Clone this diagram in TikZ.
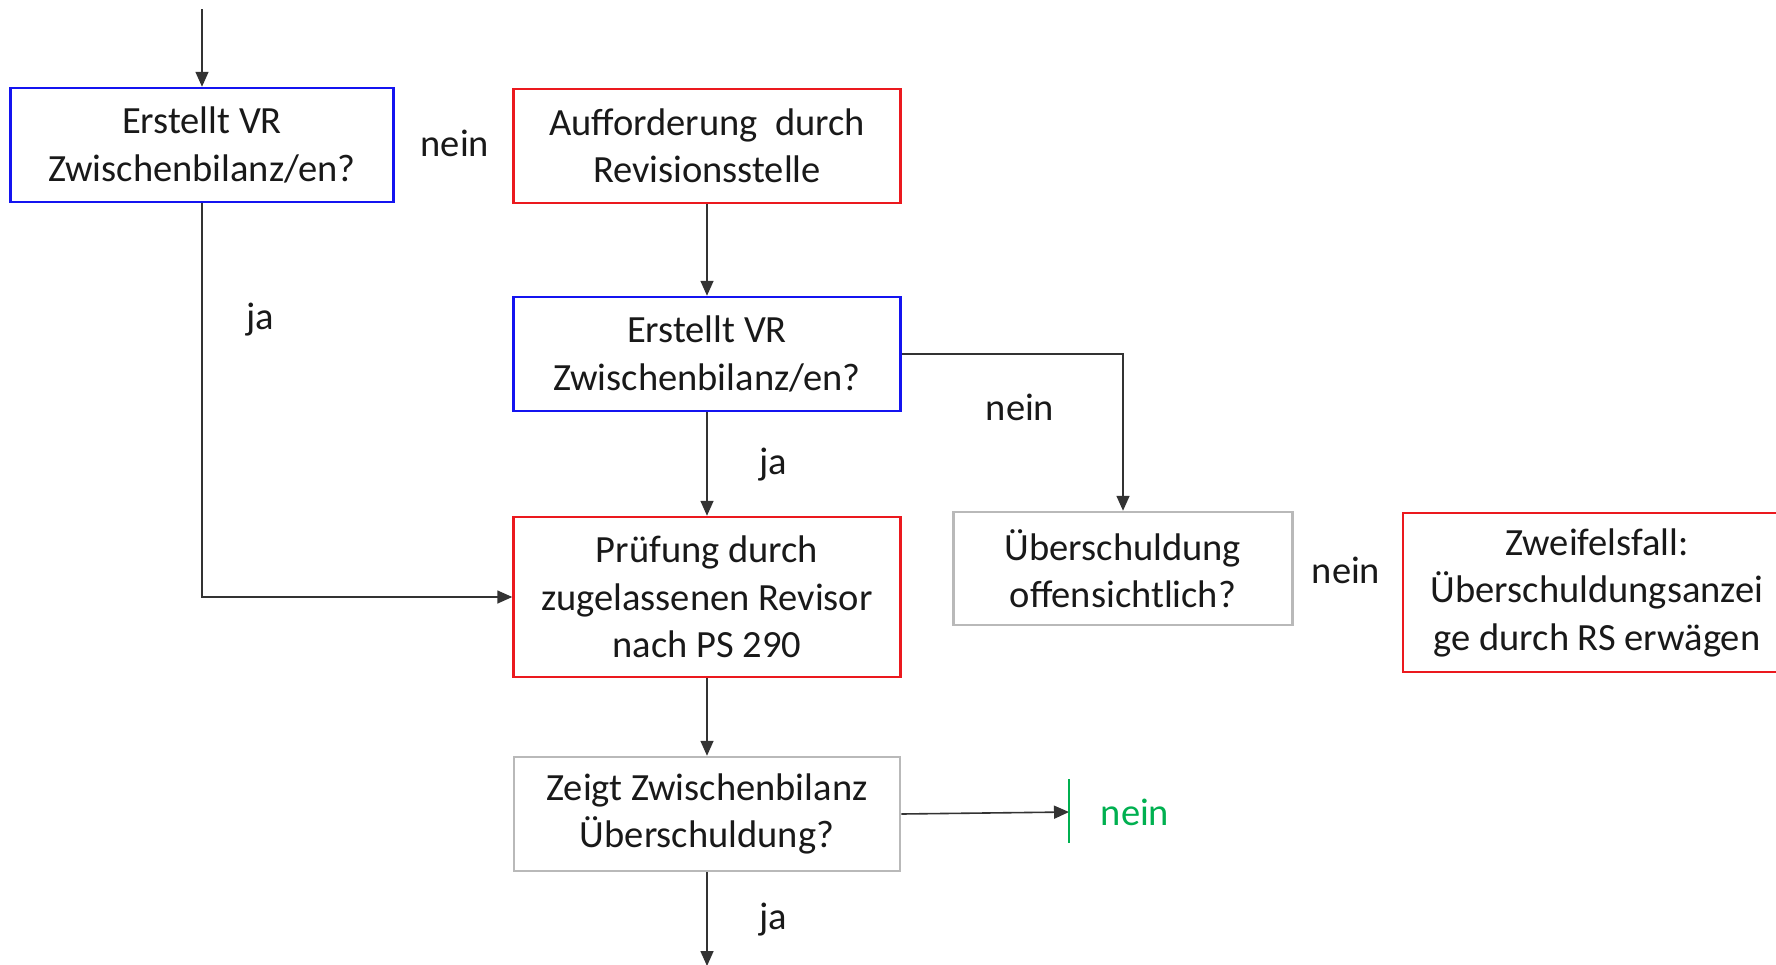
\documentclass[tikz,border=0pt]{standalone}
\usepackage{fontspec}
\setmainfont{Carlito}
\usetikzlibrary{arrows.meta}
\definecolor{bblue}{RGB}{20,20,240}
\definecolor{rred}{RGB}{235,25,30}
\definecolor{ggray}{RGB}{185,185,185}
\definecolor{ggreen}{RGB}{0,176,80}
\tikzset{
  box/.style={draw, line width=2.5pt, align=center, inner sep=0pt,
    font=\fontsize{38.5}{47.5}\selectfont, text=black!90},
  bluebox/.style={box, draw=bblue},
  redbox/.style={box, draw=rred},
  graybox/.style={box, draw=ggray},
  conn/.style={draw=black!80, line width=1.6pt, -{Triangle[length=15pt,width=13pt]}},
  lbl/.style={font=\fontsize{38.5}{47.5}\selectfont, text=black!90, inner sep=0pt}
}
\begin{document}
\begin{tikzpicture}[x=1pt,y=-1pt]
\clip (0,0) rectangle (1776,964);
\fill[white] (0,0) rectangle (1776,964);

\node[bluebox, minimum width=383pt, minimum height=114pt] (b1) at (202,145) {Erstellt VR\\Zwischenbilanz/en?};
\node[redbox, minimum width=387pt, minimum height=114pt] (b2) at (707,146) {Aufforderung\ \ durch\\Revisionsstelle};
\node[bluebox, minimum width=387pt, minimum height=114pt] (b3) at (707,354) {Erstellt VR\\Zwischenbilanz/en?};
\node[redbox, minimum width=387pt, minimum height=160pt] (b4) at (707,597) {Prüfung durch\\zugelassenen Revisor\\nach PS 290};
\node[graybox, minimum width=339pt, minimum height=113pt] (b5) at (1123,568.5) {Überschuldung\\offensichtlich?};
\node[redbox, minimum width=388pt, minimum height=159pt] (b6) at (1597,592.5) {Zweifelsfall:\\Überschuldungsanzei\\ge durch RS erwägen};
\node[graybox, minimum width=386pt, minimum height=114pt] (b7) at (707,814) {Zeigt Zwischenbilanz\\Überschuldung?};

\coordinate (top) at (202,9);
\coordinate (corner1) at (202,597);
\coordinate (corner3) at (1123,354);
\coordinate (stop) at (1069,812);
\coordinate (stopA) at (1069,779);
\coordinate (stopB) at (1069,843);
\coordinate (bottom) at (707,966);

\draw[conn] (top) -- (b1.north);
\draw[conn] (b1.south) -- (corner1) -- (b4.west);
\draw[conn] (b2.south) -- (b3.north);
\draw[conn] (b3.south) -- (b4.north);
\draw[conn] (b3.east) -- (corner3) -- (b5.north);
\draw[conn] (b4.south) -- (b7.north);
\draw[conn] (b7.east) -- (stop);
\draw[conn] (b7.south) -- (bottom);
\draw[draw=ggreen, line width=1.6pt] (stopA) -- (stopB);

\node[lbl] (n1) at (455,143) {nein};
\node[lbl] (j1) at (260,320) {ja};
\node[lbl] (j2) at (773,465) {ja};
\node[lbl] (n2) at (1020,407) {nein};
\node[lbl] (n3) at (1346,570) {nein};
\node[lbl, text=ggreen] (n4) at (1135,812) {nein};
\node[lbl] (j3) at (773,920) {ja};
\end{tikzpicture}
\end{document}
